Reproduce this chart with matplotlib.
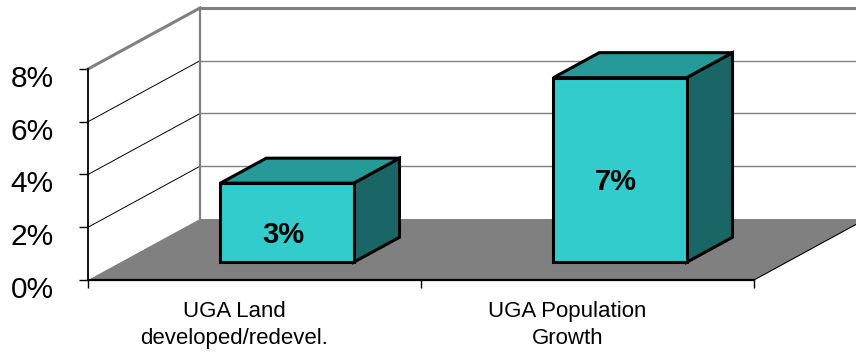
import matplotlib
matplotlib.use("Agg")
import matplotlib.pyplot as plt
import matplotlib.transforms as mtransforms
from matplotlib.patches import Polygon

plt.rcParams['font.family'] = ['Liberation Sans', 'DejaVu Sans']

# chart data
categories = ["UGA Land\ndeveloped/redevel.", "UGA Population\nGrowth"]
values = [3, 7]
value_labels = ["3%", "7%"]
y_ticks = [0, 2, 4, 6, 8]
y_tick_labels = ["0%", "2%", "4%", "6%", "8%"]

# fake 3d projection: depth 0 = front plane, depth 1 = back wall
DEPTH_DX = 0.3363   # category units per unit depth
DEPTH_DY = 2.313    # percent units per unit depth
BAR_HALF = 0.2
BAR_D0, BAR_D1 = 0.29, 0.70

FRONT = '#33CCCC'
TOP = '#269999'
SIDE = '#1A6666'


def proj(x, y, d):
    return (x + d * DEPTH_DX, y + d * DEPTH_DY)


fig = plt.figure(figsize=(8.56, 3.52), dpi=100)
ax = fig.add_axes([88 / 856, 72 / 352, 666 / 856, 211 / 352])
n = len(categories)
ax.set_xlim(0, n)
ax.set_ylim(0, y_ticks[-1])
ymax = y_ticks[-1]

# floor
floor = Polygon([proj(0, 0, 0), proj(n, 0, 0), proj(n, 0, 1), proj(0, 0, 1)],
                closed=True, facecolor='#808080', edgecolor='none', zorder=1, clip_on=False)
ax.add_patch(floor)
ax.plot(*zip(proj(n, 0, 0), proj(n, 0, 1)), color='black', lw=0.8, zorder=2, clip_on=False)

# back wall and side wall gridlines
for v in y_ticks[1:]:
    lw = 2.2 if v == ymax else 1.0
    ax.plot(*zip(proj(0, v, 1), proj(n, v, 1)), color='#808080', lw=lw, zorder=2, clip_on=False)
    side_color = '#808080' if v == ymax else 'black'
    side_lw = 2.2 if v == ymax else 0.7
    ax.plot(*zip(proj(0, v, 0), proj(0, v, 1)), color=side_color, lw=side_lw, zorder=2, clip_on=False)
ax.plot(*zip(proj(0, 0, 1), proj(0, ymax, 1)), color='#808080', lw=1.6, zorder=2, clip_on=False)

# bars
edge = dict(edgecolor='black', linewidth=2.2, joinstyle='miter', clip_on=False, zorder=5)
for i, v in enumerate(values):
    cx = i + 0.5
    x0, x1 = cx - BAR_HALF, cx + BAR_HALF
    front = [proj(x0, 0, BAR_D0), proj(x1, 0, BAR_D0), proj(x1, v, BAR_D0), proj(x0, v, BAR_D0)]
    top = [proj(x0, v, BAR_D0), proj(x1, v, BAR_D0), proj(x1, v, BAR_D1), proj(x0, v, BAR_D1)]
    side = [proj(x1, 0, BAR_D0), proj(x1, 0, BAR_D1), proj(x1, v, BAR_D1), proj(x1, v, BAR_D0)]
    ax.add_patch(Polygon(side, closed=True, facecolor=SIDE, **edge))
    ax.add_patch(Polygon(top, closed=True, facecolor=TOP, **edge))
    ax.add_patch(Polygon(front, closed=True, facecolor=FRONT, **edge))
    lx, _ = proj(cx, 0, BAR_D0)
    ax.text(lx - 0.012, v / 2 + 0.2, value_labels[i], ha='center', va='center',
            fontsize=21, fontweight='bold', color='black', zorder=6)

# axes
for s in ['top', 'right']:
    ax.spines[s].set_visible(False)
ax.spines['left'].set_linewidth(1.3)
ax.spines['bottom'].set_linewidth(1.6)
ax.spines['left'].set_zorder(3)
ax.spines['bottom'].set_zorder(3)
ax.patch.set_visible(False)

ax.set_yticks(y_ticks)
ax.set_yticklabels(y_tick_labels, fontsize=21.5)
ax.tick_params(axis='y', direction='out', length=6.5, width=1, pad=18)
offset = mtransforms.ScaledTranslation(0, -5 / 72, fig.dpi_scale_trans)
for lab in ax.get_yticklabels():
    lab.set_transform(lab.get_transform() + offset)

ax.set_xticks(range(n + 1))
ax.set_xticklabels([])
ax.tick_params(axis='x', direction='out', length=6, width=1)

for i, cat in enumerate(categories):
    ax.annotate(cat, xy=(i + 0.44, 0), xytext=(0, -15), textcoords='offset points',
                ha='center', va='top', fontsize=16, linespacing=1.4,
                annotation_clip=False)

fig.savefig('out.png', dpi=100)
